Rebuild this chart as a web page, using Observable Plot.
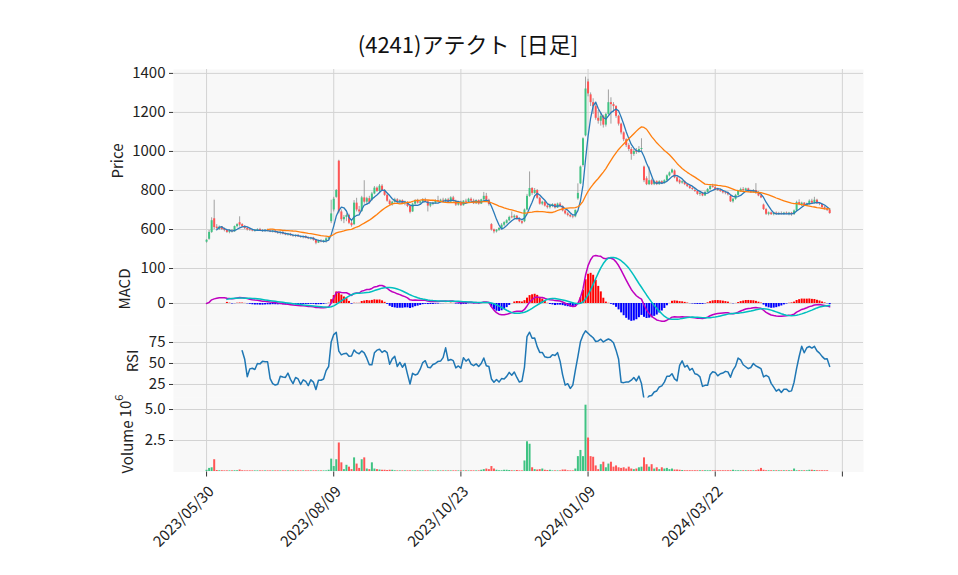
<!DOCTYPE html>
<html><head><meta charset="utf-8">
<script src="https://cdn.jsdelivr.net/npm/d3@7"></script>
<script src="https://cdn.jsdelivr.net/npm/@observablehq/plot@0.6"></script>
<style>
body{margin:0;background:#fff;font-family:"Noto Sans CJK JP","DejaVu Sans",sans-serif}
#wrap{position:relative;width:958px;height:575px;overflow:hidden;background:#fff}
#title{position:absolute;left:0;width:936px;top:27px;text-align:center;font-size:22px;color:#111;white-space:pre}
</style></head><body><div id="wrap"><div id="title">(4241)アテクト  [日足]</div></div>
<script>
// ---- data (daily OHLC, volume in millions) ----
const opens=[535,550,585,655,612,600,612,600,595,585,592,588,615,635,625,615,605,598,595,590,596,600,594,590,596,592,588,592,584,580,585,576,572,576,568,565,570,562,560,564,555,552,556,545,530,540,536,540,552,640,700,765,950,690,650,662,672,632,625,735,700,692,762,740,758,750,782,812,795,822,800,775,745,728,740,752,740,748,732,738,718,690,730,748,735,742,750,742,720,728,735,748,742,750,745,752,740,762,745,725,740,722,745,740,755,745,732,748,730,752,770,750,625,598,588,596,605,622,632,645,665,660,668,652,640,640,700,770,810,785,800,760,730,740,720,712,722,728,710,730,718,695,680,672,665,665,757,834,928,1080,1356,1290,1250,1230,1170,1155,1180,1135,1190,1250,1240,1230,1180,1140,1095,1060,1030,1010,985,1000,995,1010,920,860,830,850,830,845,830,845,835,850,875,890,900,865,850,838,845,830,820,810,800,795,780,786,772,790,805,820,815,805,800,795,788,785,770,742,755,775,795,805,800,808,795,790,800,785,772,725,702,678,685,676,684,678,682,678,684,680,684,676,695,738,728,735,722,730,745,735,750,732,728,712,705,698];
const highs=[548,595,660,750,625,618,615,608,600,598,600,618,630,665,630,620,610,605,602,600,604,606,600,600,602,598,596,596,590,588,590,582,580,580,575,572,574,568,566,568,562,560,560,550,545,548,545,560,562,750,765,805,955,700,672,680,678,645,748,760,718,770,850,765,770,790,820,818,830,830,805,780,752,745,760,758,752,752,745,742,722,735,752,755,745,758,760,748,735,740,752,770,755,760,758,760,768,770,750,745,745,748,755,760,762,755,752,752,755,790,785,755,630,602,600,610,630,640,650,668,690,675,672,660,645,705,780,895,815,810,805,765,745,745,728,730,732,732,735,738,722,700,688,680,672,700,834,925,1070,1381,1370,1300,1270,1240,1210,1200,1185,1195,1315,1275,1250,1235,1185,1145,1100,1065,1040,1020,1010,1015,1025,1065,925,870,920,858,852,850,850,850,855,880,895,910,905,870,858,850,848,835,826,815,808,800,792,790,795,810,825,832,825,812,808,800,796,792,775,760,780,800,812,815,812,812,802,805,835,795,778,730,708,690,690,688,690,688,690,688,690,688,688,700,745,752,740,738,735,752,755,765,755,738,732,718,710,702];
const lows=[530,545,580,600,598,595,595,588,580,578,582,585,608,612,610,600,592,590,588,586,590,590,585,585,588,584,582,580,575,572,572,568,566,565,560,558,560,555,552,552,548,545,540,522,528,532,530,530,548,630,690,760,680,640,630,640,625,612,620,690,680,688,730,725,730,745,778,790,790,795,770,740,720,720,735,735,730,728,722,712,680,688,725,730,728,735,738,690,712,722,730,740,735,738,735,735,738,740,718,720,718,720,735,735,740,728,728,725,728,745,745,720,592,578,582,590,600,615,628,640,655,650,648,635,625,635,695,765,775,780,755,725,722,715,705,705,712,705,708,712,690,675,665,660,655,660,750,830,920,1075,1280,1230,1190,1160,1140,1130,1120,1125,1185,1140,1200,1170,1130,1085,1050,1020,1000,955,975,985,990,1000,840,825,825,825,825,825,826,830,832,845,870,885,860,840,830,832,825,815,805,800,790,775,770,768,770,788,800,812,800,795,790,782,778,772,738,735,750,770,790,795,792,790,785,786,780,768,758,698,672,670,672,670,672,672,674,672,675,670,668,672,692,722,718,718,718,725,730,730,728,722,708,700,692,678];
const closes=[545,585,645,610,605,612,600,595,585,592,588,615,625,622,615,605,598,595,592,596,600,594,590,596,592,588,592,584,580,585,576,572,576,568,565,570,562,560,564,555,552,556,545,530,540,536,542,552,558,680,755,800,690,650,662,672,632,620,735,700,690,762,740,758,738,782,812,795,822,800,775,745,728,740,752,740,748,732,738,718,688,730,748,735,742,750,742,720,730,735,748,742,750,745,752,740,762,745,725,740,722,745,740,755,745,732,748,730,752,770,750,728,598,588,596,605,622,635,645,662,660,668,652,640,632,700,770,810,785,800,760,730,740,720,712,722,728,710,730,718,695,680,672,665,662,698,785,920,1065,1320,1295,1250,1230,1170,1155,1180,1135,1190,1250,1240,1230,1180,1140,1095,1060,1030,1010,985,1000,995,1010,1015,850,830,850,830,845,830,845,835,850,875,890,905,865,845,838,845,830,820,810,805,795,780,786,772,790,805,820,815,805,800,795,788,785,778,742,755,775,795,805,800,808,795,790,800,785,772,762,702,678,685,676,684,678,682,678,684,680,684,676,695,738,728,735,722,730,745,735,750,732,728,712,705,698,682];
const volumes=[0.10,0.25,0.30,0.95,0.08,0.06,0.06,0.05,0.05,0.05,0.05,0.06,0.06,0.12,0.06,0.05,0.05,0.05,0.05,0.05,0.05,0.05,0.05,0.05,0.05,0.05,0.05,0.05,0.05,0.05,0.05,0.05,0.05,0.05,0.05,0.05,0.05,0.05,0.05,0.05,0.05,0.05,0.05,0.05,0.05,0.05,0.05,0.05,0.10,1.00,0.40,0.95,2.30,0.70,0.15,0.50,0.35,0.15,1.10,0.60,0.25,0.95,1.10,0.20,0.15,0.70,0.20,0.15,0.12,0.10,0.10,0.08,0.10,0.10,0.06,0.05,0.05,0.05,0.05,0.05,0.05,0.05,0.05,0.05,0.05,0.05,0.05,0.05,0.05,0.05,0.05,0.05,0.05,0.05,0.05,0.05,0.05,0.05,0.05,0.05,0.05,0.05,0.05,0.05,0.05,0.05,0.05,0.05,0.10,0.15,0.20,0.15,0.40,0.20,0.10,0.06,0.06,0.10,0.10,0.08,0.06,0.05,0.08,0.05,0.05,0.85,2.40,2.20,0.30,0.15,0.12,0.15,0.20,0.10,0.08,0.10,0.05,0.05,0.05,0.05,0.12,0.12,0.06,0.05,0.05,0.20,1.20,1.70,1.20,5.35,2.70,1.20,1.15,0.45,0.15,0.55,0.75,0.30,0.60,0.75,0.35,0.45,0.30,0.25,0.30,0.20,0.35,0.20,0.15,0.20,0.30,0.35,1.10,0.55,0.35,0.55,0.20,0.30,0.15,0.30,0.20,0.25,0.15,0.20,0.12,0.12,0.10,0.08,0.06,0.06,0.06,0.06,0.06,0.06,0.06,0.06,0.06,0.06,0.06,0.06,0.06,0.06,0.06,0.06,0.06,0.06,0.06,0.10,0.06,0.06,0.06,0.06,0.06,0.06,0.06,0.06,0.06,0.12,0.25,0.10,0.06,0.06,0.06,0.06,0.06,0.06,0.06,0.06,0.06,0.06,0.06,0.20,0.06,0.06,0.06,0.06,0.06,0.10,0.10,0.08,0.06,0.06,0.06,0.06,0.06];
const tickIdx=[0,50,100,150,200,250];
const tickLabels=["2023/05/30","2023/08/09","2023/10/23","2024/01/09","2024/03/22",""];
const priceTicks=[600,800,1000,1200,1400];
const macdTicks=[0,100];
const rsiTicks=[25,50,75];
const volTicks=[2.5,5.0];

// ---- derived indicators ----
const rows=closes.map((c,i)=>({i,o:opens[i],h:highs[i],l:lows[i],c,v:volumes[i],up:c>=opens[i]}));
function sma(a,k){return a.map((_,i)=>i<k-1?null:d3.mean(a.slice(i-k+1,i+1)));}
function ema(a,span){const al=2/(span+1);const out=[];a.forEach((v,i)=>out.push(i===0?v:al*v+(1-al)*out[i-1]));return out;}
const ma5=sma(closes,5), ma25=sma(closes,25);
const e12=ema(closes,12), e26=ema(closes,26);
const macd=e12.map((v,i)=>v-e26[i]);
const sig=sma(macd,9);
const rsi=closes.map((c,i)=>{if(i<14)return null;let g=0,l=0;for(let j=i-13;j<=i;j++){const d=closes[j]-closes[j-1];if(d>0)g+=d;else l-=d;}return 100*g/(g+l);});
const maRows=rows.map(r=>({i:r.i,ma5:ma5[r.i],ma25:ma25[r.i],macd:macd[r.i],sig:sig[r.i],hist:sig[r.i]==null?null:macd[r.i]-sig[r.i],rsi:rsi[r.i]}));

const UP="#3fc383", DN="#ff5555", BG="#f8f8f8", GRID="#d3d3d3";
const FONT='"Noto Sans CJK JP","DejaVu Sans",sans-serif';
const FS=15;
const xDomain=[-13,258.3];
const wrap=document.getElementById("wrap");
const labelMap=new Map(tickIdx.map((t,k)=>[t,tickLabels[k]]));

function panel(top,h,ydom,yticks,marks,opts={}){
  const mt=12, mb=opts.mb??12;
  const svg=Plot.plot({
    width:958,height:h+mt+mb,marginLeft:173,marginRight:95,marginTop:mt,marginBottom:mb,
    style:{background:"transparent",overflow:"visible",fontFamily:FONT,fontSize:FS+"px",color:"#222"},
    x:{domain:xDomain,axis:null},
    y:{domain:ydom,axis:null},
    marks:[
      Plot.frame({fill:BG,stroke:null}),
      Plot.gridX(tickIdx,{stroke:GRID,strokeOpacity:1,strokeWidth:1}),
      Plot.gridY(yticks,{stroke:GRID,strokeOpacity:1,strokeWidth:1}),
      ...marks,
      Plot.axisY(yticks,{tickSize:4,tickPadding:4,fontSize:FS,stroke:"#333",fill:"#222",label:null,tickFormat:opts.fmt??(d=>String(d))}),
      ...(opts.xaxis?[
        Plot.axisX(tickIdx,{tickSize:5,text:null,stroke:"#333",label:null}),
        Plot.axisX(tickIdx,{tickSize:0,tickPadding:12,dx:5,dy:5,fontSize:FS,fill:"#222",label:null,tickRotate:-45,tickFormat:d=>labelMap.get(d)})
      ]:[])
    ]
  });
  svg.style.position="absolute";svg.style.left="0px";svg.style.top=(top-mt)+"px";
  wrap.appendChild(svg);
}

// price panel
panel(69,184,[477,1420],priceTicks,[
  Plot.ruleX(rows,{x:"i",y1:"l",y2:"h",stroke:"#8a8a8a",strokeWidth:0.8}),
  Plot.ruleX(rows,{x:"i",y1:"o",y2:"c",stroke:d=>d.up?UP:DN,strokeWidth:2}),
  Plot.line(maRows.filter(d=>d.ma5!=null),{x:"i",y:"ma5",stroke:"#2a7ab8",strokeWidth:1.3}),
  Plot.line(maRows.filter(d=>d.ma25!=null),{x:"i",y:"ma25",stroke:"#ff7f0e",strokeWidth:1.3})
]);
// MACD panel
panel(253,72,[-63,143],macdTicks,[
  Plot.ruleX(maRows.filter(d=>d.hist!=null),{x:"i",y1:0,y2:"hist",stroke:d=>d.hist>=0?"#ff0000":"#0000ff",strokeWidth:2}),
  Plot.line(maRows,{x:"i",y:"macd",stroke:"#bf00bf",strokeWidth:1.5}),
  Plot.line(maRows.filter(d=>d.sig!=null),{x:"i",y:"sig",stroke:"#00bfbf",strokeWidth:1.5})
]);
// RSI panel
panel(325,72,[9.5,95.2],rsiTicks,[
  Plot.line(maRows.filter(d=>d.rsi!=null),{x:"i",y:"rsi",stroke:"#1f77b4",strokeWidth:1.5})
]);
// Volume panel
panel(397,74.5,[-0.04,5.97],volTicks,[
  Plot.ruleX(rows,{x:"i",y1:0,y2:"v",stroke:d=>d.up?UP:DN,strokeWidth:2})
],{xaxis:true,mb:100,fmt:d3.format(".1f")});

// y axis labels
const ov=d3.select(wrap).append("svg").attr("width",958).attr("height",575)
  .style("position","absolute").style("left","0px").style("top","0px").style("pointer-events","none")
  .style("font-family",FONT).style("font-size",FS+"px").attr("fill","#222");
function vlabel(x,y,t){return ov.append("text").attr("transform",`translate(${x},${y}) rotate(-90)`).attr("text-anchor","middle").attr("dominant-baseline","central").text(t);}
vlabel(116,161,"Price");
vlabel(123,289,"MACD");
vlabel(131,361,"RSI");
vlabel(126,447,"Volume");
const tt=ov.append("text").attr("transform","translate(124,406) rotate(-90)").attr("text-anchor","middle").attr("dominant-baseline","central");
tt.append("tspan").text("10");
tt.append("tspan").attr("dy","-6").attr("font-size","11px").text("6");
</script></body></html>
